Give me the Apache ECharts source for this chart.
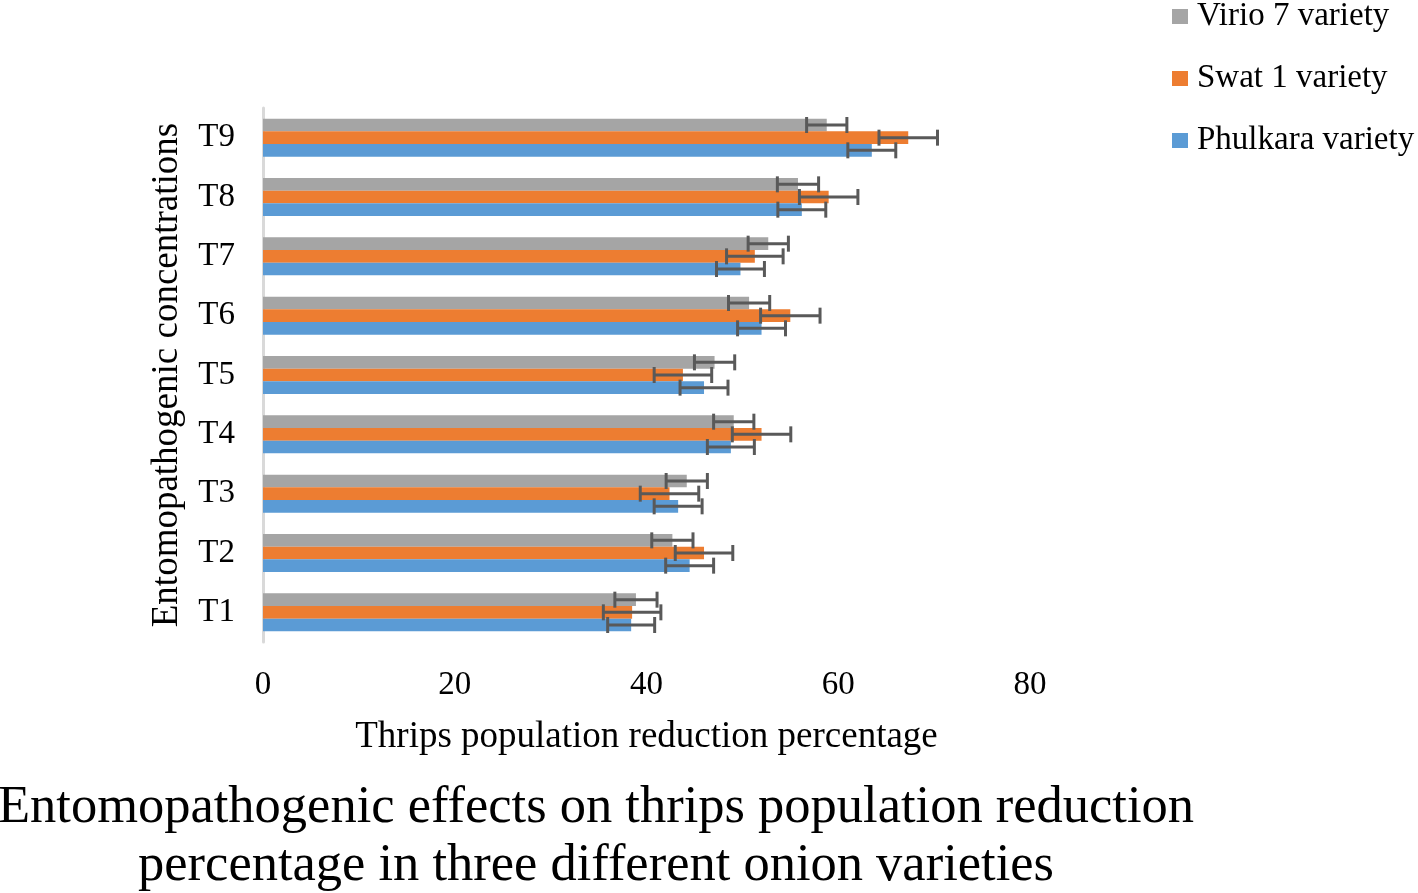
<!DOCTYPE html>
<html><head><meta charset="utf-8">
<script src="https://cdn.jsdelivr.net/npm/echarts@6/dist/echarts.min.js"></script>
<style>html,body{margin:0;padding:0;background:#fff}#c{width:1418px;height:893px}</style>
</head><body><div id="c"></div>
<script>
const categories = ['T1','T2','T3','T4','T5','T6','T7','T8','T9'];
const seriesNames = ['Virio 7 variety','Swat 1 variety','Phulkara variety'];
const virio    = [38.9, 42.7, 44.2, 49.1, 47.1, 50.7, 52.7, 55.8, 58.8];
const virioErr = [2.2, 2.15, 2.15, 2.1, 2.1, 2.15, 2.1, 2.15, 2.1];
const swat     = [38.5, 46.0, 42.4, 52.0, 43.8, 55.0, 51.3, 59.0, 67.3];
const swatErr  = [3.0, 3.0, 3.05, 3.05, 3.0, 3.1, 2.95, 3.05, 3.05];
const phulkara    = [38.4, 44.5, 43.3, 48.8, 46.0, 52.0, 49.8, 56.2, 63.5];
const phulkaraErr = [2.45, 2.5, 2.5, 2.45, 2.5, 2.5, 2.5, 2.5, 2.5];
const xAxisMin = 0, xAxisMax = 80, xAxisStep = 20;
const xAxisTitle = 'Thrips population reduction percentage';
const yAxisTitle = 'Entomopathogenic concentrations';
const chartTitle = ['Entomopathogenic effects on thrips population reduction', 'percentage in three different onion varieties'];

const FONT = 'Liberation Serif';
const COLORS = ['#A5A5A5', '#ED7D31', '#5B9BD5'];
const GAP = 0.36;
const values = [virio, swat, phulkara];
const errs = [virioErr, swatErr, phulkaraErr];

function errRender(k) {
  return function (params, api) {
    const cat = api.value(0);
    const p1 = api.coord([api.value(1), cat]);
    const p2 = api.coord([api.value(2), cat]);
    const band = api.size([0, 1])[1];
    const bw = band * (1 - GAP) / 3;
    const y = p1[1] - 1.5 * bw + (k + 0.5) * bw;
    const ch = 8;
    const st = { stroke: '#595959', lineWidth: 3 };
    return { type: 'group', children: [
      { type: 'line', shape: { x1: p1[0], y1: y, x2: p2[0], y2: y }, style: st },
      { type: 'line', shape: { x1: p1[0], y1: y - ch, x2: p1[0], y2: y + ch }, style: st },
      { type: 'line', shape: { x1: p2[0], y1: y - ch, x2: p2[0], y2: y + ch }, style: st }
    ]};
  };
}

const series = [];
seriesNames.forEach((name, k) => {
  series.push({
    name: name, type: 'bar', data: values[k], barGap: '0%', barCategoryGap: (GAP * 100) + '%',
    itemStyle: { color: COLORS[k] }, z: 2
  });
});
seriesNames.forEach((name, k) => {
  series.push({
    type: 'custom', name: name + ' err', renderItem: errRender(k), z: 5,
    encode: { x: [1, 2], y: 0 },
    data: categories.map((c, i) => [i, values[k][i] - errs[k][i], values[k][i] + errs[k][i]]),
    silent: true, tooltip: { show: false }
  });
});

const chart = echarts.init(document.getElementById('c'));
chart.setOption({
  animation: false,
  backgroundColor: '#fff',
  color: COLORS,
  textStyle: { fontFamily: FONT },
  grid: { left: 263, right: 388, top: 108, bottom: 251, containLabel: false },
  legend: {
    data: seriesNames, orient: 'vertical', left: 1167, top: -5,
    icon: 'rect', itemWidth: 16, itemHeight: 15, itemGap: 29,
    textStyle: { fontFamily: FONT, fontSize: 33, color: '#000', padding: [0, 0, 0, 4] }
  },
  xAxis: {
    type: 'value', min: xAxisMin, max: xAxisMax, interval: xAxisStep,
    axisLine: { show: false }, axisTick: { show: false }, splitLine: { show: false },
    axisLabel: { fontFamily: FONT, fontSize: 33, color: '#000', margin: 27 },
    name: xAxisTitle, nameLocation: 'middle', nameGap: 77,
    nameTextStyle: { fontFamily: FONT, fontSize: 37, color: '#000' }
  },
  yAxis: {
    type: 'category', data: categories,
    axisLine: { show: true, lineStyle: { color: '#D9D9D9', width: 3 } },
    axisTick: { show: false },
    axisLabel: { fontFamily: FONT, fontSize: 33, color: '#000', margin: 28, padding: [4, 0, 0, 0] },
    name: yAxisTitle, nameLocation: 'middle', nameGap: 77,
    nameTextStyle: { fontFamily: FONT, fontSize: 37, color: '#000' }
  },
  graphic: chartTitle.map((t, i) => ({
    type: 'text', x: 596, y: 808 + i * 58, silent: true,
    style: { text: t, fill: '#000', fontFamily: FONT, fontSize: 52.5, textAlign: 'center', textVerticalAlign: 'middle' }
  })),
  series: series
});
</script></body></html>
